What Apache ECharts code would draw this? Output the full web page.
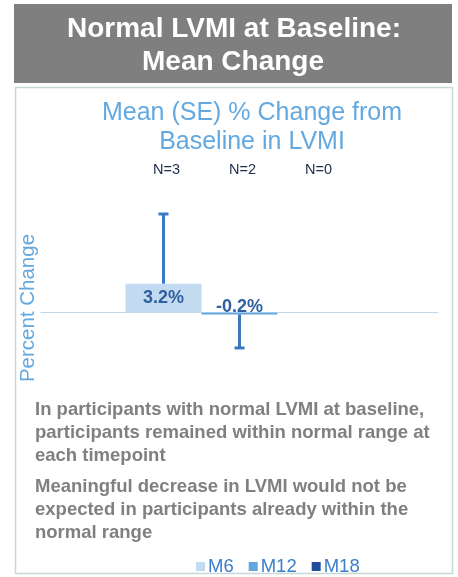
<!DOCTYPE html>
<html>
<head>
<meta charset="utf-8">
<script src="https://cdn.jsdelivr.net/npm/echarts@6/dist/echarts.min.js"></script>
<style>
html,body{margin:0;padding:0;background:#fff;}
#chart{width:458px;height:577px;}
</style>
</head>
<body>
<div id="chart"></div>
<script>
// ---- data ----
const categories = ['LVMI'];
const seriesNames = ['M6', 'M12', 'M18'];
const meanM6 = [3.2];
const meanM12 = [-0.2];
const meanM18 = [null];
const seM6 = [7.7];
const seM12 = [3.7];
const seM18 = [null];
const nLabels = ['N=3', 'N=2', 'N=0'];
const headerLines = ['Normal LVMI at Baseline:', 'Mean Change'];
const titleLines = ['Mean (SE) % Change from', 'Baseline in LVMI'];
const yAxisName = 'Percent Change';
const note1 = 'In participants with normal LVMI at baseline,\nparticipants remained within normal range at\neach timepoint';
const note2 = 'Meaningful decrease in LVMI would not be\nexpected in participants already within the\nnormal range';

// ---- styling ----
const FONT = '"Liberation Sans", Arial, sans-serif';
const colors = ['#c3dbf0', '#62a6e0', '#1f4e9c'];
const BAR_W = 76;
const means = [meanM6, meanM12, meanM18];
const ses = [seM6, seM12, seM18];

const errData = [];
means.forEach((arr, s) => {
  arr.forEach((m, c) => {
    if (m !== null && ses[s][c] !== null) errData.push([c, s, m, ses[s][c]]);
  });
});
const nData = nLabels.map((t, s) => [0, s, 0]);

const barSeries = seriesNames.map((name, s) => ({
  name: name,
  type: 'bar',
  data: means[s].map(v => {
    if (v === null) return null;
    if (v < 0) {
      return { value: v, label: { position: 'top', distance: -3.5 } };
    }
    return v;
  }),
  barWidth: BAR_W,
  barGap: '0%',
  itemStyle: { color: colors[s] },
  label: {
    show: true,
    position: 'inside',
    formatter: p => p.value + '%',
    fontFamily: FONT,
    fontWeight: 'bold',
    fontSize: 18,
    color: '#2f5f9e'
  },
  z: 2
}));

const chart = echarts.init(document.getElementById('chart'), null, { renderer: 'canvas' });
chart.setOption({
  animation: false,
  backgroundColor: '#ffffff',
  legend: {
    data: seriesNames,
    left: 191,
    top: 552,
    itemWidth: 9,
    itemHeight: 9,
    itemGap: 15,
    icon: 'rect',
    textStyle: { fontFamily: FONT, fontSize: 18.5, color: '#3a7dc8', padding: [0, 0, 0, -2] }
  },
  grid: { left: 41, right: 20, top: 195, height: 181, containLabel: false },
  xAxis: {
    type: 'category',
    data: categories,
    axisLine: { show: true, onZero: true, lineStyle: { color: '#bdd7ee', width: 1 } },
    axisTick: { show: false },
    axisLabel: { show: false },
    splitLine: { show: false }
  },
  yAxis: {
    type: 'value',
    min: -7,
    max: 13,
    axisLine: { show: false },
    axisTick: { show: false },
    axisLabel: { show: false },
    splitLine: { show: false }
  },
  series: barSeries.concat([
    {
      type: 'custom',
      name: 'SE',
      data: errData,
      encode: { x: 0, y: 2 },
      z: 3,
      renderItem: function (params, api) {
        const c = api.value(0), s = api.value(1), m = api.value(2), se = api.value(3);
        const cx = api.coord([c, 0])[0] + (s - 1) * BAR_W;
        const dir = m >= 0 ? 1 : -1;
        const y0 = api.coord([c, m])[1];
        const y1 = api.coord([c, m + dir * se])[1];
        const st = { stroke: '#3b78c2', lineWidth: 3 };
        return {
          type: 'group',
          children: [
            { type: 'line', shape: { x1: cx, y1: y0, x2: cx, y2: y1 }, style: st },
            { type: 'line', shape: { x1: cx - 5, y1: y1, x2: cx + 5, y2: y1 }, style: st }
          ]
        };
      }
    },
    {
      type: 'custom',
      name: 'N',
      data: nData,
      encode: { x: 0, y: 2 },
      clip: false,
      renderItem: function (params, api) {
        const c = api.value(0), s = api.value(1);
        const cx = api.coord([c, 0])[0] + (s - 1) * BAR_W + 3;
        return {
          type: 'text',
          style: {
            text: nLabels[s],
            x: cx, y: 170,
            align: 'center', verticalAlign: 'middle',
            font: '14.5px ' + FONT,
            fill: '#1f2d4a'
          }
        };
      }
    }
  ]),
  graphic: [
    { type: 'rect', shape: { x: 14, y: 4, width: 438, height: 79 }, style: { fill: '#7f7f7f' }, z: -1 },
    { type: 'text', style: { text: headerLines[0], x: 234, y: 29, align: 'center', verticalAlign: 'middle', font: 'bold 28px ' + FONT, fill: '#ffffff' } },
    { type: 'text', style: { text: headerLines[1], x: 233, y: 62, align: 'center', verticalAlign: 'middle', font: 'bold 28px ' + FONT, fill: '#ffffff' } },
    { type: 'rect', shape: { x: 15.5, y: 87.5, width: 437, height: 486 }, style: { fill: 'none', stroke: '#c8d8d8', lineWidth: 1.5 }, z: -1 },
    { type: 'text', style: { text: titleLines[0], x: 252, y: 113, align: 'center', verticalAlign: 'middle', font: '25px ' + FONT, fill: '#63a9e0' } },
    { type: 'text', style: { text: titleLines[1], x: 252, y: 142, align: 'center', verticalAlign: 'middle', font: '25px ' + FONT, fill: '#63a9e0' } },
    { type: 'text', rotation: Math.PI / 2, x: 28, y: 308, style: { text: yAxisName, x: 0, y: 0, align: 'center', verticalAlign: 'middle', font: '20.5px ' + FONT, fill: '#63a9e0' } },
    { type: 'text', style: { text: note1, x: 35, y: 398.5, align: 'left', verticalAlign: 'top', font: 'bold 18.5px ' + FONT, lineHeight: 23, fill: '#808080' } },
    { type: 'text', style: { text: note2, x: 35, y: 475.5, align: 'left', verticalAlign: 'top', font: 'bold 18.5px ' + FONT, lineHeight: 23, fill: '#808080' } }
  ]
});
</script>
</body>
</html>
